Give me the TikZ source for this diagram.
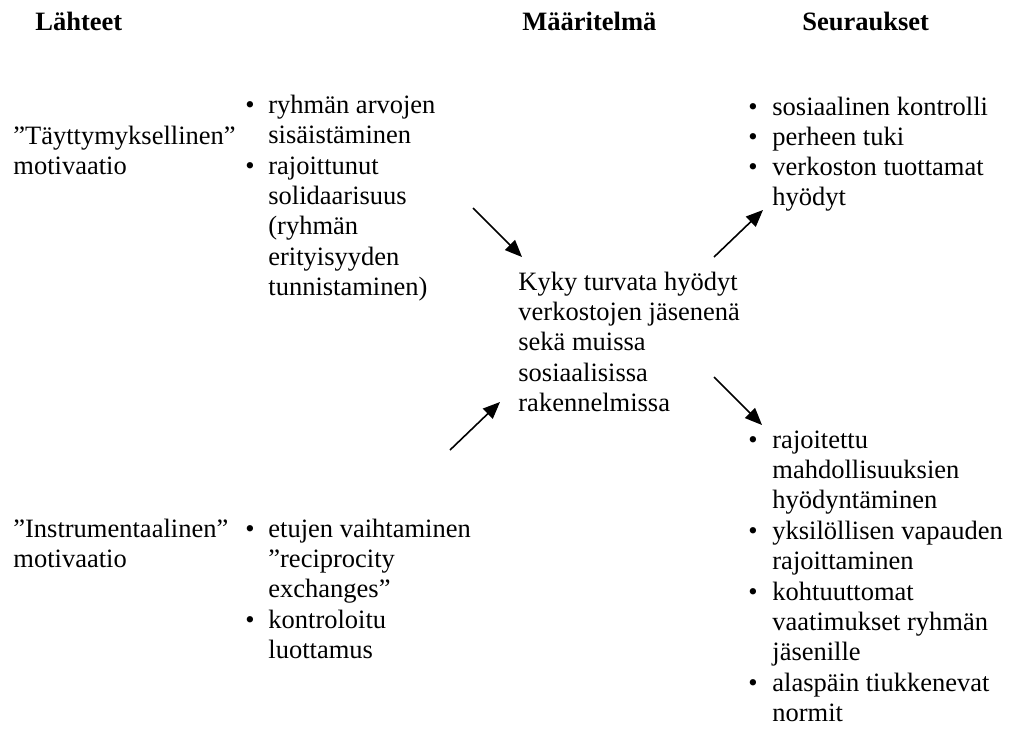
\documentclass[tikz,border=0pt]{standalone}
\usepackage{fontspec}
\setmainfont{Liberation Serif}
\usetikzlibrary{arrows.meta}
\newcommand{\rivit}[1]{\begin{tabular}[t]{@{}l@{}}#1\end{tabular}}

\begin{document}
\begin{tikzpicture}[x=0.5pt, y=-0.5pt,
    txt/.style={anchor=base west, inner sep=0, font=\fontsize{13.25}{15.2}\selectfont},
    head/.style={txt, font=\fontsize{13.25}{15.2}\selectfont\bfseries},
    dot/.style={anchor=base, inner sep=0, font=\fontsize{13.25}{15.2}\selectfont},
    arr/.style={line width=0.8pt, -{Triangle[length=8.5pt, width=7pt]}}]
  \useasboundingbox (0,0) rectangle (1010,729);
  % otsikot
  \node[head] (Lahteet) at (35,30) {Lähteet};
  \node[head] (Maaritelma) at (522,30) {Määritelmä};
  \node[head] (Seuraukset) at (802,30) {Seuraukset};
  % lähteet
  \node[txt] (Tayt) at (13,144) {\rivit{”Täyttymyksellinen”\\motivaatio}};
  \node[dot] (b11) at (250,113) {\textbullet};
  \node[txt] (arvot) at (268,113) {\rivit{ryhmän arvojen\\sisäistäminen}};
  \node[dot] (b12) at (250,174) {\textbullet};
  \node[txt] (solid) at (268,174) {\rivit{rajoittunut\\solidaarisuus\\(ryhmän\\erityisyyden\\tunnistaminen)}};
  \node[txt] (Instr) at (13,537) {\rivit{”Instrumentaalinen”\\motivaatio}};
  \node[dot] (b21) at (250,537) {\textbullet};
  \node[txt] (etujen) at (268,537) {\rivit{etujen vaihtaminen\\”reciprocity\\exchanges”}};
  \node[dot] (b22) at (250,628) {\textbullet};
  \node[txt] (luott) at (268,628) {\rivit{kontroloitu\\luottamus}};
  % määritelmä
  \node[txt] (Kyky) at (518,290) {\rivit{Kyky turvata hyödyt\\verkostojen jäsenenä\\sekä muissa\\sosiaalisissa\\rakennelmissa}};
  % seuraukset
  \node[dot] (b31) at (753,115) {\textbullet};
  \node[txt] (kontr) at (772,115) {sosiaalinen kontrolli};
  \node[dot] (b32) at (753,145) {\textbullet};
  \node[txt] (tuki) at (772,145) {perheen tuki};
  \node[dot] (b33) at (753,175) {\textbullet};
  \node[txt] (verk) at (772,175) {\rivit{verkoston tuottamat\\hyödyt}};
  \node[dot] (b41) at (753,448) {\textbullet};
  \node[txt] (mahd) at (772,448) {\rivit{rajoitettu\\mahdollisuuksien\\hyödyntäminen}};
  \node[dot] (b42) at (753,539) {\textbullet};
  \node[txt] (vapaus) at (772,539) {\rivit{yksilöllisen vapauden\\rajoittaminen}};
  \node[dot] (b43) at (753,600) {\textbullet};
  \node[txt] (vaat) at (772,600) {\rivit{kohtuuttomat\\vaatimukset ryhmän\\jäsenille}};
  \node[dot] (b44) at (753,691) {\textbullet};
  \node[txt] (normit) at (772,691) {\rivit{alaspäin tiukkenevat\\normit}};
  % nuolet
  \coordinate (a1) at (473,208);
  \coordinate (a1k) at (522,257);
  \coordinate (a2) at (450,450);
  \coordinate (a2k) at (500,402);
  \coordinate (a3) at (714,257);
  \coordinate (a3k) at (763,210);
  \coordinate (a4) at (714,377);
  \coordinate (a4k) at (762,425);
  \draw[arr] (a1) -- (a1k);
  \draw[arr] (a2) -- (a2k);
  \draw[arr] (a3) -- (a3k);
  \draw[arr] (a4) -- (a4k);
\end{tikzpicture}
\end{document}
